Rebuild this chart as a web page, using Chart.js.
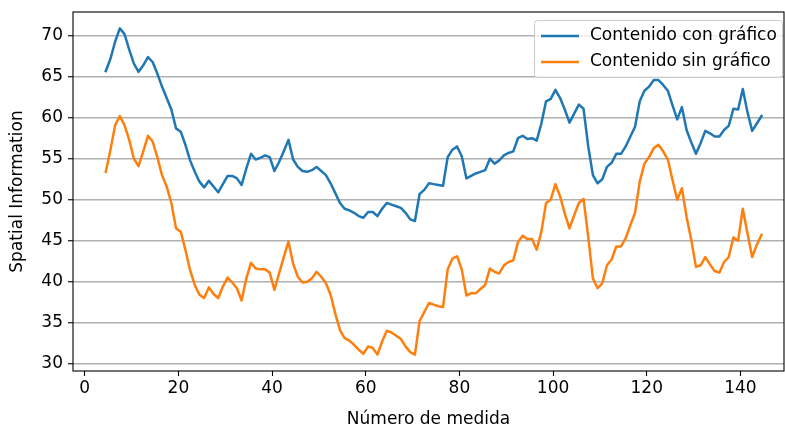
<!DOCTYPE html>
<html>
<head>
<meta charset="utf-8">
<script src="https://cdn.jsdelivr.net/npm/chart.js@4.4.0/dist/chart.umd.min.js"></script>
<style>
  html, body { margin: 0; padding: 0; background: #fff; }
  #wrap { width: 785px; height: 428px; }
</style>
</head>
<body>
<div id="wrap"><canvas id="chart" width="785" height="428"></canvas></div>
<script>
// medida index of the first point (rolling window centre)
const firstMedida = 4.5;

const conGrafico = [
  65.7, 67.2, 69.3, 70.9, 70.2, 68.3, 66.6, 65.6, 66.4, 67.4,
  66.8, 65.4, 63.8, 62.4, 61.0, 58.7, 58.3, 56.7, 54.8, 53.4,
  52.2, 51.5, 52.3, 51.6, 50.9, 51.9, 52.9, 52.9, 52.6, 51.8,
  53.8, 55.6, 54.9, 55.1, 55.4, 55.2, 53.5, 54.6, 55.9, 57.3,
  54.9, 54.0, 53.5, 53.4, 53.6, 54.0, 53.5, 53.0, 52.0, 50.8,
  49.6, 48.9, 48.7, 48.4, 48.0, 47.8, 48.5, 48.5, 48.0, 48.9,
  49.6, 49.4, 49.2, 49.0, 48.4, 47.6, 47.4, 50.7, 51.2, 52.0,
  51.9, 51.8, 51.7, 55.2, 56.1, 56.5, 55.3, 52.6, 52.9, 53.2,
  53.4, 53.6, 55.0, 54.4, 54.8, 55.4, 55.7, 55.9, 57.5, 57.8,
  57.4, 57.5, 57.2, 59.3, 62.0, 62.3, 63.4, 62.4, 61.0, 59.4,
  60.5, 61.6, 61.1, 56.5, 53.0, 52.0, 52.5, 54.0, 54.5, 55.6,
  55.6, 56.5, 57.7, 58.9, 62.0, 63.3, 63.8, 64.6, 64.6, 64.0,
  63.3, 61.5, 59.8, 61.3, 58.5, 57.0, 55.6, 56.9, 58.4, 58.1,
  57.7, 57.7, 58.5, 59.0, 61.1, 61.0, 63.5, 60.7, 58.4, 59.3,
  60.2
];

const sinGrafico = [
  53.4, 56.1, 59.1, 60.2, 59.1, 57.3, 55.0, 54.1, 55.9, 57.8,
  57.1, 55.2, 53.0, 51.6, 49.6, 46.5, 46.1, 43.9, 41.4, 39.6,
  38.4, 38.0, 39.3, 38.5, 38.0, 39.4, 40.5, 39.9, 39.2, 37.7,
  40.4, 42.3, 41.6, 41.5, 41.5, 41.1, 39.0, 41.0, 43.0, 44.9,
  42.2, 40.6, 39.9, 40.0, 40.4, 41.2, 40.6, 39.8, 38.4, 36.1,
  34.1, 33.1, 32.8, 32.3, 31.7, 31.2, 32.1, 31.9, 31.1, 32.7,
  34.0, 33.8, 33.4, 33.0, 32.1, 31.4, 31.1, 35.2, 36.3, 37.4,
  37.2, 37.0, 36.9, 41.5, 42.8, 43.1, 41.5, 38.3, 38.6, 38.6,
  39.1, 39.6, 41.6, 41.2, 41.0, 42.0, 42.4, 42.6, 44.8, 45.6,
  45.2, 45.2, 43.9, 46.1, 49.6, 50.0, 51.9, 50.4, 48.3, 46.5,
  48.1, 49.6, 50.1, 45.5, 40.4, 39.2, 39.8, 42.0, 42.7, 44.3,
  44.3, 45.3, 46.9, 48.4, 52.2, 54.4, 55.2, 56.3, 56.7, 55.9,
  54.9, 52.4, 50.0, 51.4, 47.9, 45.1, 41.8, 42.0, 43.0, 42.1,
  41.3, 41.1, 42.4, 43.0, 45.4, 45.0, 48.9, 45.9, 43.0, 44.5,
  45.7
];

const seriesLabels = ['Contenido con gráfico', 'Contenido sin gráfico'];
const seriesColors = ['#1f77b4', '#ff7f0e'];
const xTicks = [0, 20, 40, 60, 80, 100, 120, 140];
const yTicks = [30, 35, 40, 45, 50, 55, 60, 65, 70];

function toPoints(values) {
  return values.map((v, i) => ({ x: firstMedida + i, y: v }));
}

const FONT = 'DejaVu Sans';
Chart.defaults.color = '#000';
Chart.defaults.font.family = FONT;
Chart.defaults.font.size = 17;

// matplotlib-like spines, drawn above the lines
const frame = {
  id: 'frame',
  afterDatasetsDraw(chart) {
    const { ctx, chartArea: a } = chart;
    ctx.save();
    ctx.strokeStyle = '#000';
    ctx.lineWidth = 1.1;
    ctx.strokeRect(a.left, a.top, a.right - a.left, a.bottom - a.top);
    ctx.restore();
  }
};

// legend box in the upper right corner of the axes
const boxLegend = {
  id: 'boxLegend',
  afterDraw(chart) {
    const { ctx, chartArea } = chart;
    const w = 248, h = 57;
    const right = chartArea.right - 2;
    const top = chartArea.top + 8;
    const left = right - w;
    ctx.save();
    ctx.fillStyle = 'rgba(255,255,255,0.8)';
    ctx.strokeStyle = '#cccccc';
    ctx.lineWidth = 1;
    ctx.beginPath();
    ctx.roundRect(left + 0.5, top + 0.5, w, h, 3);
    ctx.fill();
    ctx.stroke();
    ctx.font = '17px "' + FONT + '"';
    ctx.textBaseline = 'middle';
    ctx.textAlign = 'left';
    chart.data.datasets.forEach((ds, i) => {
      const y = top + 16 + i * 26;
      ctx.strokeStyle = ds.borderColor;
      ctx.lineWidth = 2.5;
      ctx.beginPath();
      ctx.moveTo(left + 7, y);
      ctx.lineTo(left + 45, y);
      ctx.stroke();
      ctx.fillStyle = '#000';
      ctx.fillText(ds.label, left + 56, y);
    });
    ctx.restore();
  }
};

new Chart(document.getElementById('chart'), {
  type: 'line',
  data: {
    datasets: [conGrafico, sinGrafico].map((values, i) => ({
      label: seriesLabels[i],
      data: toPoints(values),
      borderColor: seriesColors[i],
      backgroundColor: seriesColors[i],
      borderWidth: 2.5,
      borderJoinStyle: 'round',
      borderCapStyle: 'square',
      pointRadius: 0,
      tension: 0,
      fill: false
    }))
  },
  options: {
    responsive: false,
    animation: false,
    devicePixelRatio: 1,
    layout: { padding: { left: 0, right: 1, top: 12, bottom: 0 } },
    plugins: {
      legend: { display: false },
      tooltip: { enabled: false }
    },
    scales: {
      x: {
        type: 'linear',
        min: -2.5,
        max: 149.3,
        afterBuildTicks: (scale) => { scale.ticks = xTicks.map(v => ({ value: v })); },
        afterFit: (scale) => {
          scale.height = 57;
          scale.paddingLeft = 0;
          scale.paddingRight = 0;
        },
        ticks: { padding: 2, maxRotation: 0, autoSkip: false },
        grid: {
          drawOnChartArea: false,
          drawTicks: true,
          tickLength: 5,
          tickColor: '#000',
          tickWidth: 1.1
        },
        border: { display: false },
        title: {
          display: true,
          text: 'Número de medida',
          font: { size: 17, lineHeight: 1.0 },
          padding: { top: 0, bottom: 0 }
        }
      },
      y: {
        min: 29.1,
        max: 72.9,
        afterBuildTicks: (scale) => { scale.ticks = yTicks.map(v => ({ value: v })); },
        afterFit: (scale) => {
          scale.width = 73;
          scale.paddingTop = 0;
          scale.paddingBottom = 0;
        },
        ticks: { padding: 5 },
        grid: {
          drawOnChartArea: true,
          color: '#b0b0b0',
          lineWidth: 1.5,
          drawTicks: true,
          tickLength: 5,
          tickColor: '#000',
          tickWidth: 1.1
        },
        border: { display: false },
        title: {
          display: true,
          text: 'Spatial Information',
          font: { size: 17, lineHeight: 1.0 },
          padding: { top: 9, bottom: 0 }
        }
      }
    }
  },
  plugins: [frame, boxLegend]
});
</script>
</body>
</html>
